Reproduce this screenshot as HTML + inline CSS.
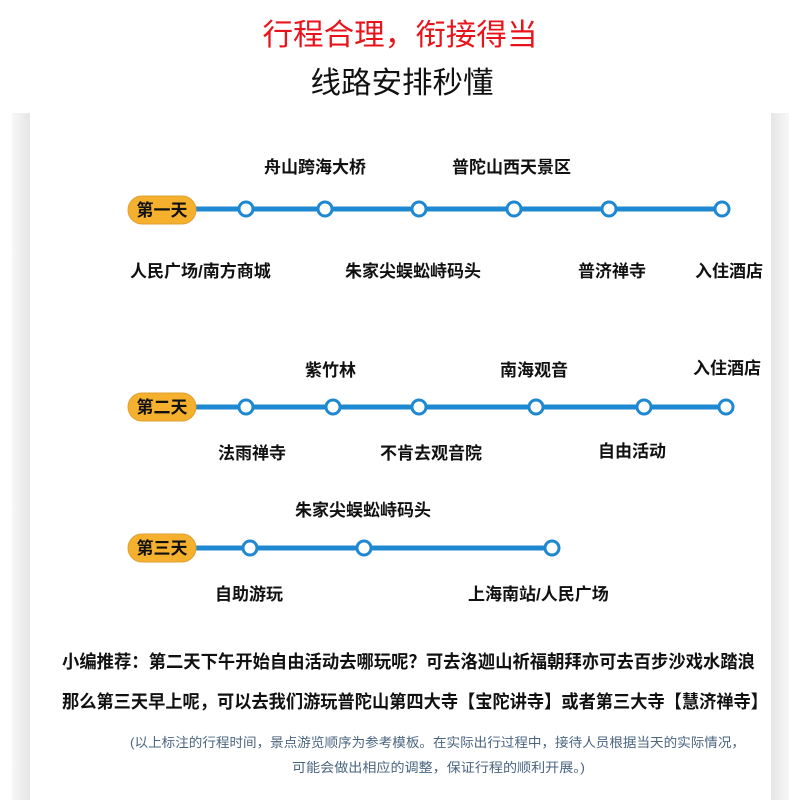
<!DOCTYPE html>
<html><head><meta charset="utf-8"><style>
html,body{margin:0;padding:0;background:#fff;}
svg{display:block}
text{font-family:"Liberation Sans","Noto Sans CJK SC",sans-serif;}
.l{font-size:17px;font-weight:bold;fill:#111;}
.b{font-size:17px;font-weight:bold;fill:#111;}
.r{font-size:18px;font-weight:bold;fill:#111;}
.n{font-size:13px;fill:#4a6580;}
</style></head><body>
<svg width="800" height="800" viewBox="0 0 800 800" xmlns="http://www.w3.org/2000/svg">
<defs>
<linearGradient id="gl" x1="0" x2="1"><stop offset="0" stop-color="#f7f7f7"/><stop offset="1" stop-color="#e6e6e6"/></linearGradient>
<linearGradient id="gr" x1="0" x2="1"><stop offset="0" stop-color="#e6e6e6"/><stop offset="1" stop-color="#f7f7f7"/></linearGradient>
</defs>
<rect x="12" y="113" width="18" height="687" fill="url(#gl)"/>
<rect x="771" y="113" width="18" height="687" fill="url(#gr)"/>
<text x="400" y="45" text-anchor="middle" font-family="'Noto Serif CJK SC',serif" font-size="30" fill="#e8141c" textLength="275" lengthAdjust="spacingAndGlyphs">行程合理，衔接得当</text>
<text x="402" y="93" text-anchor="middle" font-family="'Noto Serif CJK SC',serif" font-size="30" fill="#111" textLength="183" lengthAdjust="spacingAndGlyphs">线路安排秒懂</text>

<g stroke="#1e88d0" stroke-width="5">
<line x1="195" y1="209" x2="722" y2="209"/>
<line x1="195" y1="407" x2="726" y2="407"/>
<line x1="195" y1="548" x2="552" y2="548"/>
</g>
<g fill="#f5b12e" stroke="#e0a030" stroke-width="1">
<rect x="128" y="196" width="68" height="28" rx="14"/>
<rect x="128" y="393" width="68" height="28" rx="14"/>
<rect x="128" y="534" width="68" height="28" rx="14"/>
</g>
<text x="162" y="216" text-anchor="middle" class="b">第一天</text>
<text x="162" y="413" text-anchor="middle" class="b">第二天</text>
<text x="162" y="554" text-anchor="middle" class="b">第三天</text>
<g fill="#fff" stroke="#1e88d0" stroke-width="3">
<circle cx="246" cy="209" r="7"/><circle cx="325" cy="209" r="7"/><circle cx="419" cy="209" r="7"/><circle cx="514" cy="209" r="7"/><circle cx="609" cy="209" r="7"/><circle cx="722" cy="209" r="7"/>
<circle cx="246" cy="407" r="7"/><circle cx="333" cy="407" r="7"/><circle cx="419" cy="407" r="7"/><circle cx="536" cy="407" r="7"/><circle cx="644" cy="407" r="7"/><circle cx="726" cy="407" r="7"/>
<circle cx="250" cy="548" r="7"/><circle cx="364" cy="548" r="7"/><circle cx="552" cy="548" r="7"/>
</g>
<text class="l" x="264" y="173">舟山跨海大桥</text>
<text class="l" x="452" y="173">普陀山西天景区</text>
<text class="l" x="130" y="277">人民广场/南方商城</text>
<text class="l" x="345" y="277">朱家尖蜈蚣峙码头</text>
<text class="l" x="578" y="277">普济禅寺</text>
<text class="l" x="695" y="277">入住酒店</text>

<text class="l" x="305" y="376">紫竹林</text>
<text class="l" x="500" y="376">南海观音</text>
<text class="l" x="693" y="374">入住酒店</text>
<text class="l" x="218" y="459">法雨禅寺</text>
<text class="l" x="380" y="459">不肯去观音院</text>
<text class="l" x="598" y="457">自由活动</text>

<text class="l" x="295" y="516">朱家尖蜈蚣峙码头</text>
<text class="l" x="215" y="600">自助游玩</text>
<text class="l" x="468" y="600">上海南站/人民广场</text>

<text class="r" x="62" y="668" textLength="693" lengthAdjust="spacingAndGlyphs">小编推荐：第二天下午开始自由活动去哪玩呢？可去洛迦山祈福朝拜亦可去百步沙戏水踏浪</text>
<text class="r" x="62" y="708" textLength="706" lengthAdjust="spacingAndGlyphs">那么第三天早上呢，可以去我们游玩普陀山第四大寺【宝陀讲寺】或者第三大寺【慧济禅寺】</text>
<text class="n" x="130" y="747" textLength="615" lengthAdjust="spacingAndGlyphs">(以上标注的行程时间，景点游览顺序为参考模板。在实际出行过程中，接待人员根据当天的实际情况，</text>
<text class="n" x="292" y="772" textLength="293" lengthAdjust="spacingAndGlyphs">可能会做出相应的调整，保证行程的顺利开展。)</text>
</svg>
</body></html>
